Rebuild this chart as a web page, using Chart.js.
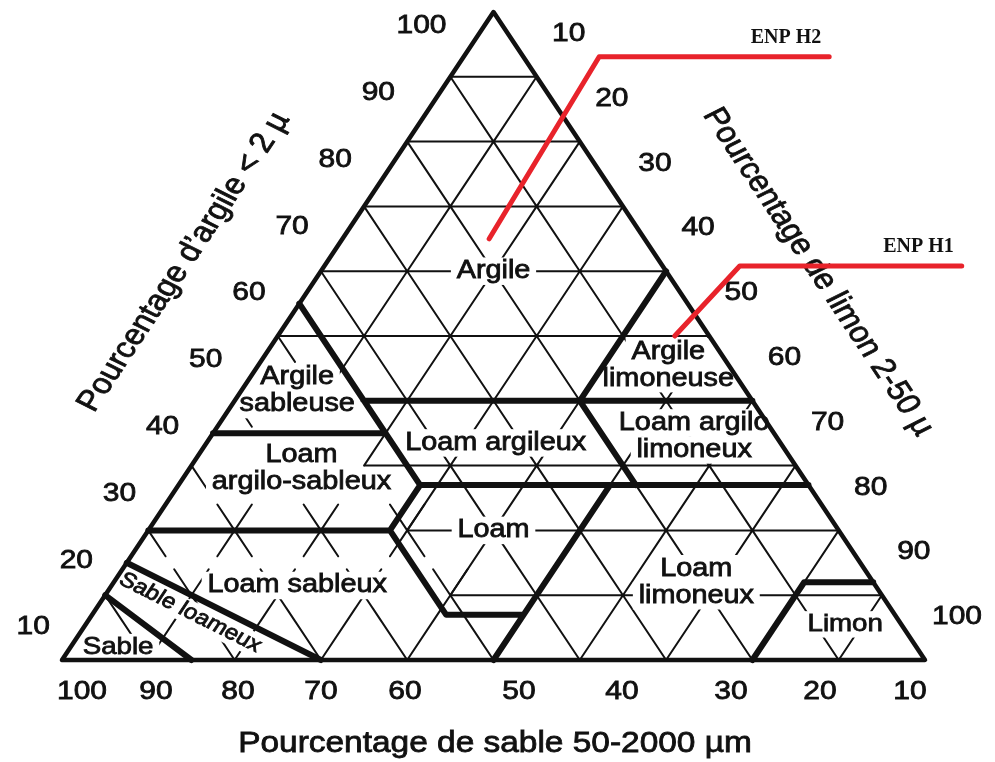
<!DOCTYPE html>
<html lang="fr">
<head>
  <meta charset="UTF-8">
  <title>Triangle des textures</title>
  <style>
    html, body { margin: 0; padding: 0; background: #fff; }
    .cadre { position: relative; width: 995px; height: 762px; }
  </style>
</head>
<body>
  <div class="cadre"><canvas id="triangle"></canvas></div>

  <script src="https://cdn.jsdelivr.net/npm/chart.js"></script>
  <script>
    // valeurs en % : [argile, limon]  (sable = 100 - argile - limon)
    const ticksArgile = [100, 90, 80, 70, 60, 50, 40, 30, 20, 10];
    const ticksLimon = [10, 20, 30, 40, 50, 60, 70, 80, 90, 100];
    const ticksSable = [100, 90, 80, 70, 60, 50, 40, 30, 20, 10];

    const contour = [[0, 0], [100, 0], [0, 100], [0, 0]];

    const limites = [
      [[55, 0], [27, 28]],                        // sable 45
      [[40, 15], [40, 60]],                       // argile 40
      [[40, 40], [60, 40]],                       // limon 40
      [[35, 0], [35, 20]],                        // argile 35
      [[27, 28], [27, 73]],                       // argile 27
      [[40, 40], [27, 53]],                       // sable 20
      [[27, 28], [20, 28], [7, 41], [7, 50], [27, 50]], // loam
      [[7, 50], [0, 50]],
      [[20, 0], [20, 28]],                        // argile 20
      [[0, 80], [12, 80], [12, 88]],              // limon
      [[15, 0], [0, 30]],                         // sable loameux
      [[10, 0], [0, 15]]                          // sable
    ];

    const classes = ['Argile', 'Argile limoneuse', 'Argile sableuse', 'Loam argileux',
      'Loam argilo limoneux', 'Loam argilo-sableux', 'Loam', 'Loam sableux',
      'Loam limoneux', 'Limon', 'Sable', 'Sable loameux'];

    const echantillons = ['ENP H2', 'ENP H1'];
    const argileEch = [65, 50];
    const limonEch = [17, 46];

    // mise en page des noms de classes (argile, limon, lignes)
    const ancrages = {
      'Argile': [60, 20, ['Argile']],
      'Argile limoneuse': [45.5, 47.5, ['Argile', 'limoneuse']],
      'Argile sableuse': [41.5, 6.5, ['Argile', 'sableuse']],
      'Loam argileux': [33.5, 33.5, ['Loam argileux']],
      'Loam argilo limoneux': [34.5, 56, ['Loam argilo', 'limoneux']],
      'Loam argilo-sableux': [29.5, 13, ['Loam', 'argilo-sableux']],
      'Loam': [20, 40, ['Loam']],
      'Loam sableux': [11.5, 21.5, ['Loam sableux']],
      'Loam limoneux': [12, 67.5, ['Loam', 'limoneux']],
      'Limon': [5.5, 88, ['Limon']],
      'Sable': [2, 5.5, ['Sable']],
      'Sable loameux': [7.3, 11.2, ['Sable loameux']]
    };
    // abscisses (px) des chiffres du sable, comme sur le document scanné
    const xTicksSable = [82, 156, 238, 321, 405, 519, 622, 731, 820, 910];

    const ETIRE = 1.153;
    const police = '"Liberation Sans", Arial, sans-serif';

    const pt = (argile, limon) => ({ x: limon + argile / 2, y: argile });

    function enPoints(lignes) {
      const pts = [];
      lignes.forEach(ligne => {
        ligne.forEach(([a, l]) => pts.push(pt(a, l)));
        pts.push({ x: null, y: null });
      });
      return pts;
    }

    // grille : segments de 10 %, remplacée par des croix dans la zone sableuse
    const zoneVide = (a, l) => (100 - a - l) > 45 && a <= 45;
    const grille = [];
    const croix = [];
    for (let a = 0; a <= 100; a += 10) {
      for (let l = 0; a + l <= 100; l += 10) {
        const s = 100 - a - l;
        if (a > 0 && s >= 10 && !zoneVide(a, l + 5)) grille.push([[a, l], [a, l + 10]]);
        if (l >= 10 && s > 0 && a + 10 <= 100 && !zoneVide(a + 5, l - 5)) grille.push([[a, l], [a + 10, l - 10]]);
        if (l > 0 && s >= 10 && !zoneVide(a + 5, l)) grille.push([[a, l], [a + 10, l]]);
        if (s >= 50 && (a <= 20 || (l === 0 && a <= 50)) && !(a === 0 && l === 0)) {
          const d = a === 0 ? 8 : 4;
          [[d, -d], [-d, d], [-d, 0], [d, 0]].forEach(([da, dl]) => {
            const a2 = a + da, l2 = l + dl, s2 = 100 - a2 - l2;
            if (a2 < 0 || l2 < 0 || s2 < 0) return;
            if (dl === 0 && l === 0) return;
            croix.push([[a, l], [a2, l2]]);
          });
        }
      }
    }

    function texte(ctx, lignes, x, y, taille, angle, fond, interligne) {
      ctx.save();
      ctx.translate(x, y);
      ctx.scale(ETIRE, 1);
      ctx.rotate(angle);
      ctx.font = taille + 'px ' + police;
      ctx.textAlign = 'center';
      ctx.textBaseline = 'middle';
      const h = interligne || taille * 1.1;
      const y0 = -(lignes.length - 1) * h / 2;
      lignes.forEach((s, i) => {
        if (fond) {
          const w = ctx.measureText(s).width;
          ctx.fillStyle = '#fff';
          ctx.fillRect(-w / 2 - 5, y0 + i * h - taille * 0.55, w + 10, taille * 1.1);
        }
      });
      ctx.fillStyle = '#111';
      ctx.strokeStyle = '#111';
      ctx.lineWidth = 0.8;
      lignes.forEach((s, i) => {
        ctx.fillText(s, 0, y0 + i * h);
        ctx.strokeText(s, 0, y0 + i * h);
      });
      ctx.restore();
    }

    const pixel = (chart, a, l) => {
      const p = pt(a, l);
      return [chart.scales.x.getPixelForValue(p.x), chart.scales.y.getPixelForValue(p.y)];
    };

    const habillage = {
      id: 'habillage',
      afterDatasetDraw(chart, args) {
        if (args.index !== 2) return;
        const ctx = chart.ctx;
        classes.forEach(nom => {
          const [a, l, lignes] = ancrages[nom];
          const [x, y] = pixel(chart, a, l);
          const angle = nom === 'Sable loameux' ? Math.PI / 6 : 0;
          const taille = nom === 'Sable loameux' ? 21 : (nom === 'Sable' || nom === 'Limon') ? 24 : 25;
          texte(ctx, lignes, x, y, taille, angle, true, 27);
        });
      },
      afterDraw(chart) {
        const ctx = chart.ctx;
        ticksArgile.forEach(k => {
          const [x, y] = pixel(chart, k, 0);
          texte(ctx, [String(k)], x - 72, y + 14 + 0.2 * (100 - k), 26, 0);
        });
        ticksLimon.forEach(k => {
          const [x, y] = pixel(chart, 100 - k, k);
          texte(ctx, [String(k)], x + 32, y - 43, 26, 0);
        });
        ticksSable.forEach((k, i) => {
          texte(ctx, [String(k)], xTicksSable[i], 692, 26, 0);
        });
        texte(ctx, ['Pourcentage de sable 50-2000 \u00b5m'], 495, 744, 29, 0);
        texte(ctx, ['Pourcentage d\u2019argile < 2 \u00b5'], 184, 262, 29, -Math.PI / 3);
        texte(ctx, ['Pourcentage de limon 2-50 \u00b5'], 818, 272, 29, Math.PI / 3);

        // repères des échantillons
        const coude = [[110, -182, 340], [65, -70, 287]];
        echantillons.forEach((nom, i) => {
          const [x, y] = pixel(chart, argileEch[i], limonEch[i]);
          const [dx, dy, fin] = coude[i];
          ctx.save();
          ctx.strokeStyle = '#e8232b';
          ctx.lineWidth = 5;
          ctx.lineCap = 'round';
          ctx.lineJoin = 'round';
          ctx.beginPath();
          ctx.moveTo(x, y);
          ctx.lineTo(x + dx, y + dy);
          ctx.lineTo(x + fin, y + dy);
          ctx.stroke();
          ctx.font = 'bold 20px "Liberation Serif", "Times New Roman", serif';
          ctx.fillStyle = '#111';
          ctx.textAlign = 'right';
          ctx.textBaseline = 'alphabetic';
          ctx.fillText(nom, x + fin - 8, y + dy - 14);
          ctx.restore();
        });
      }
    };

    const trait = (data, largeur) => ({
      data, showLine: true, pointRadius: 0, borderColor: '#111', borderWidth: largeur,
      borderJoinStyle: 'round', borderCapStyle: 'round', fill: false, spanGaps: false, clip: false
    });

    new Chart(document.getElementById('triangle'), {
      type: 'scatter',
      data: {
        datasets: [
          trait(enPoints(limites), 6),
          trait(enPoints([contour]), 4.5),
          trait(enPoints(croix), 2),
          trait(enPoints(grille), 2)
        ]
      },
      options: {
        responsive: true,
        maintainAspectRatio: false,
        animation: false,
        events: [],
        layout: { padding: { left: 62, right: 70, top: 12, bottom: 102 } },
        scales: {
          x: { type: 'linear', min: 0, max: 100, display: false },
          y: { type: 'linear', min: 0, max: 100, display: false }
        },
        plugins: { legend: { display: false }, tooltip: { enabled: false } }
      },
      plugins: [habillage]
    });
  </script>
</body>
</html>
